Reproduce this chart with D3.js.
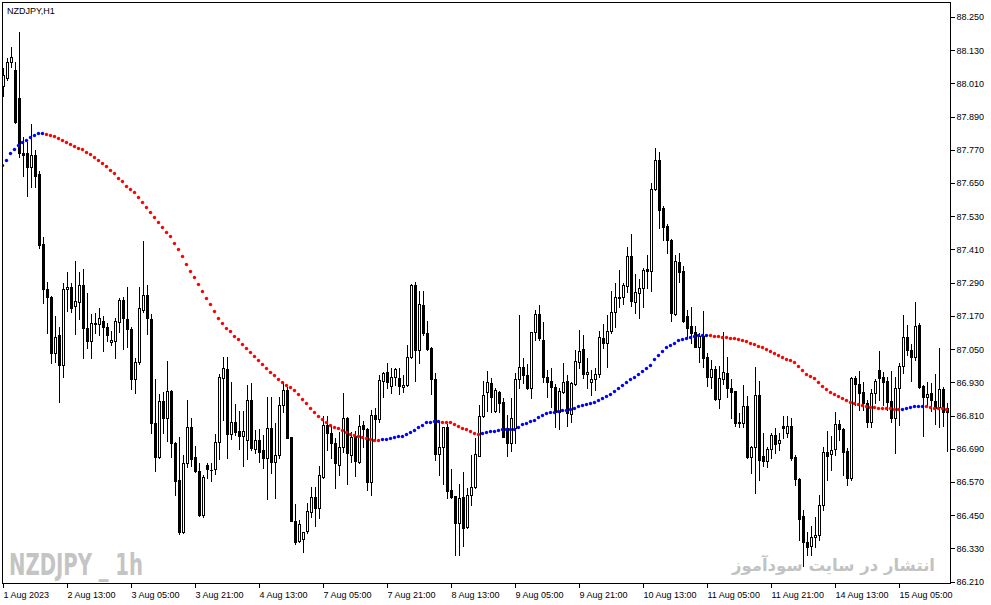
<!DOCTYPE html>
<html>
<head>
<meta charset="utf-8">
<script src="https://cdn.jsdelivr.net/npm/d3@7"></script>
<style>
  html, body { margin: 0; padding: 0; background: #fff; }
  svg { display: block; }
</style>
</head>
<body>
<div id="chart"></div>
<script>
// NZDJPY H1, first bar 1 Aug 2023 21:00, one bar per hour (weekend skipped)
var openP = [
  88.002, 88.031, 88.087, 88.059, 87.959, 87.759, 87.757, 87.709, 87.751, 87.682,
  87.430, 87.266, 87.238, 87.035, 87.101, 86.993, 87.266, 87.273, 87.205, 87.219,
  87.281, 87.125, 87.079, 87.143, 87.140, 87.151, 87.129, 87.075, 87.080, 87.149,
  87.227, 87.158, 87.122, 86.941, 87.005, 87.191, 87.245, 87.158, 86.782, 86.662,
  86.862, 86.802, 86.899, 86.712, 86.577, 86.390, 86.638, 86.767, 86.660, 86.610,
  86.451, 86.631, 86.613, 86.616, 86.714, 86.945, 86.977, 86.743, 86.788, 86.754,
  86.737, 86.722, 86.866, 86.690, 86.722, 86.686, 86.658, 86.766, 86.643, 86.668,
  86.848, 86.902, 86.731, 86.429, 86.358, 86.363, 86.393, 86.463, 86.515, 86.475,
  86.587, 86.775, 86.746, 86.710, 86.631, 86.697, 86.800, 86.668, 86.736, 86.643,
  86.776, 86.760, 86.569, 86.812, 86.796, 86.935, 86.966, 86.917, 86.950, 86.945,
  86.912, 86.920, 87.021, 87.281, 87.047, 87.209, 87.107, 87.053, 86.941, 86.671,
  86.695, 86.767, 86.541, 86.519, 86.423, 86.515, 86.406, 86.523, 86.551, 86.665,
  86.808, 86.896, 86.927, 86.828, 86.894, 86.858, 86.764, 86.712, 86.764, 86.941,
  86.986, 86.956, 86.908, 87.111, 87.176, 87.083, 86.950, 86.935, 86.914, 86.824,
  86.894, 86.935, 86.816, 86.924, 87.005, 87.049, 86.959, 86.930, 86.942, 86.959,
  87.089, 87.071, 87.117, 87.185, 87.239, 87.237, 87.279, 87.386, 87.221, 87.254,
  87.272, 87.339, 87.332, 87.627, 87.733, 87.559, 87.495, 87.444, 87.177, 87.366,
  87.332, 87.169, 87.134, 87.111, 87.058, 87.097, 87.021, 86.950, 86.977, 86.870,
  86.942, 86.963, 86.908, 86.899, 86.788, 86.784, 86.845, 86.662, 86.697, 86.884,
  86.664, 86.647, 86.688, 86.740, 86.712, 86.773, 86.748, 86.772, 86.659, 86.581,
  86.447, 86.354, 86.339, 86.370, 86.378, 86.487, 86.677, 86.670, 86.688, 86.779,
  86.761, 86.682, 86.584, 86.945, 86.923, 86.894, 86.854, 86.788, 86.893, 86.974,
  86.948, 86.935, 86.862, 86.802, 86.908, 86.989, 87.093, 87.047, 87.023, 87.137,
  86.918, 86.876, 86.890, 86.864, 86.840, 86.905, 86.836
];

var highP = [
  88.067, 88.101, 88.140, 88.087, 88.196, 87.815, 87.799, 87.863, 87.769, 87.693,
  87.455, 87.291, 87.241, 87.169, 87.131, 87.290, 87.327, 87.288, 87.368, 87.327,
  87.339, 87.252, 87.177, 87.179, 87.197, 87.169, 87.143, 87.115, 87.161, 87.236,
  87.237, 87.273, 87.131, 87.017, 87.275, 87.441, 87.281, 87.177, 86.942, 86.887,
  86.894, 87.007, 86.902, 86.716, 86.734, 86.668, 86.866, 86.800, 86.700, 86.638,
  86.595, 86.640, 86.638, 86.742, 86.959, 87.021, 87.021, 86.930, 86.850, 86.826,
  86.826, 86.920, 86.927, 86.758, 86.760, 86.740, 86.876, 86.878, 86.782, 86.878,
  86.932, 86.914, 86.733, 86.489, 86.432, 86.390, 86.495, 86.551, 86.551, 86.628,
  86.809, 86.809, 86.776, 86.730, 86.749, 86.893, 86.806, 86.752, 86.755, 86.812,
  86.791, 86.764, 86.830, 86.836, 86.956, 86.968, 86.999, 86.981, 86.983, 86.981,
  86.956, 87.065, 87.285, 87.294, 87.260, 87.260, 87.151, 87.056, 86.963, 86.788,
  86.770, 86.778, 86.616, 86.521, 86.562, 86.607, 86.547, 86.668, 86.728, 86.848,
  86.935, 86.971, 86.947, 86.908, 86.899, 86.872, 86.812, 86.872, 86.963, 87.173,
  87.019, 86.995, 87.113, 87.191, 87.209, 87.149, 86.974, 86.981, 86.924, 86.908,
  86.999, 86.956, 86.932, 87.047, 87.119, 87.101, 87.017, 86.974, 86.981, 87.115,
  87.140, 87.173, 87.260, 87.288, 87.336, 87.288, 87.418, 87.465, 87.320, 87.302,
  87.342, 87.390, 87.651, 87.775, 87.763, 87.567, 87.501, 87.447, 87.390, 87.396,
  87.350, 87.191, 87.201, 87.134, 87.107, 87.188, 87.035, 87.011, 86.989, 86.989,
  87.111, 87.021, 86.942, 86.900, 86.818, 86.920, 86.881, 86.699, 86.986, 86.936,
  86.746, 86.697, 86.748, 86.764, 86.746, 86.808, 86.808, 86.800, 86.668, 86.585,
  86.469, 86.390, 86.411, 86.445, 86.523, 86.695, 86.754, 86.736, 86.824, 86.794,
  86.764, 86.693, 86.948, 86.953, 86.972, 86.930, 86.866, 86.905, 86.941, 87.043,
  86.968, 86.948, 86.972, 86.948, 86.999, 87.173, 87.137, 87.067, 87.221, 87.143,
  86.920, 86.932, 86.927, 86.960, 87.053, 86.912, 86.855
];

var lowP = [
  87.966, 88.023, 88.071, 87.866, 87.745, 87.676, 87.604, 87.636, 87.634, 87.417,
  87.217, 87.110, 86.999, 87.005, 86.860, 86.949, 87.188, 87.185, 87.106, 87.158,
  87.019, 87.055, 87.019, 87.107, 87.101, 87.044, 87.080, 87.065, 87.017, 87.113,
  87.049, 87.058, 86.905, 86.893, 86.995, 87.185, 87.103, 86.748, 86.608, 86.658,
  86.746, 86.718, 86.662, 86.523, 86.382, 86.387, 86.625, 86.629, 86.606, 86.448,
  86.445, 86.586, 86.574, 86.599, 86.652, 86.794, 86.658, 86.724, 86.740, 86.689,
  86.629, 86.653, 86.686, 86.674, 86.642, 86.620, 86.508, 86.603, 86.511, 86.658,
  86.824, 86.728, 86.428, 86.345, 86.354, 86.318, 86.385, 86.445, 86.412, 86.441,
  86.585, 86.686, 86.655, 86.547, 86.595, 86.679, 86.562, 86.643, 86.591, 86.640,
  86.697, 86.541, 86.523, 86.722, 86.788, 86.878, 86.908, 86.890, 86.920, 86.888,
  86.896, 86.917, 87.017, 86.935, 86.999, 87.101, 87.047, 86.888, 86.649, 86.595,
  86.563, 86.511, 86.513, 86.306, 86.306, 86.340, 86.403, 86.487, 86.547, 86.663,
  86.806, 86.828, 86.824, 86.824, 86.822, 86.732, 86.665, 86.682, 86.710, 86.908,
  86.927, 86.905, 86.874, 87.083, 87.083, 86.930, 86.878, 86.842, 86.770, 86.760,
  86.890, 86.773, 86.788, 86.920, 86.981, 86.945, 86.908, 86.884, 86.902, 86.948,
  87.053, 86.986, 87.109, 87.131, 87.203, 87.212, 87.257, 87.206, 87.179, 87.161,
  87.203, 87.270, 87.261, 87.625, 87.486, 87.444, 87.398, 87.153, 87.173, 87.294,
  87.147, 87.094, 87.073, 87.056, 87.005, 86.984, 86.917, 86.908, 86.867, 86.836,
  86.924, 86.878, 86.800, 86.773, 86.767, 86.770, 86.656, 86.601, 86.531, 86.577,
  86.628, 86.625, 86.658, 86.674, 86.686, 86.728, 86.731, 86.649, 86.559, 86.360,
  86.266, 86.306, 86.306, 86.336, 86.360, 86.469, 86.577, 86.613, 86.668, 86.722,
  86.595, 86.559, 86.577, 86.848, 86.830, 86.830, 86.770, 86.767, 86.856, 86.866,
  86.848, 86.830, 86.788, 86.676, 86.776, 86.963, 87.029, 86.936, 87.011, 86.908,
  86.737, 86.848, 86.828, 86.779, 86.767, 86.773, 86.683
];

var closeP = [
  88.041, 88.087, 88.105, 87.872, 87.757, 87.753, 87.709, 87.751, 87.676, 87.426,
  87.266, 87.240, 87.035, 87.094, 86.993, 87.266, 87.275, 87.199, 87.223, 87.281,
  87.125, 87.080, 87.143, 87.140, 87.161, 87.131, 87.101, 87.083, 87.151, 87.227,
  87.161, 87.121, 86.941, 87.005, 87.197, 87.245, 87.161, 86.784, 86.662, 86.862,
  86.802, 86.899, 86.710, 86.575, 86.390, 86.638, 86.767, 86.653, 86.608, 86.451,
  86.587, 86.617, 86.614, 86.714, 86.950, 86.981, 86.743, 86.788, 86.752, 86.737,
  86.755, 86.866, 86.692, 86.722, 86.680, 86.658, 86.766, 86.643, 86.668, 86.848,
  86.902, 86.730, 86.430, 86.354, 86.417, 86.388, 86.465, 86.515, 86.475, 86.594,
  86.775, 86.746, 86.710, 86.638, 86.697, 86.800, 86.674, 86.731, 86.647, 86.773,
  86.760, 86.569, 86.812, 86.796, 86.937, 86.963, 86.930, 86.950, 86.977, 86.917,
  86.920, 87.021, 87.281, 87.047, 87.212, 87.110, 87.050, 86.941, 86.671, 86.697,
  86.767, 86.538, 86.515, 86.423, 86.511, 86.403, 86.523, 86.551, 86.671, 86.808,
  86.884, 86.930, 86.878, 86.902, 86.854, 86.734, 86.712, 86.800, 86.942, 86.984,
  86.956, 86.908, 87.111, 87.176, 87.089, 86.950, 86.932, 86.912, 86.824, 86.900,
  86.932, 86.818, 86.927, 87.007, 87.043, 86.959, 86.966, 86.942, 86.959, 87.092,
  87.071, 87.117, 87.185, 87.237, 87.234, 87.281, 87.386, 87.225, 87.255, 87.272,
  87.336, 87.333, 87.627, 87.733, 87.552, 87.492, 87.444, 87.182, 87.368, 87.330,
  87.151, 87.127, 87.109, 87.058, 87.097, 87.019, 86.950, 86.977, 86.870, 86.945,
  86.966, 86.908, 86.896, 86.784, 86.784, 86.845, 86.662, 86.697, 86.884, 86.649,
  86.647, 86.688, 86.740, 86.707, 86.722, 86.764, 86.773, 86.656, 86.581, 86.435,
  86.354, 86.336, 86.370, 86.378, 86.487, 86.679, 86.665, 86.686, 86.780, 86.760,
  86.679, 86.584, 86.945, 86.923, 86.893, 86.856, 86.788, 86.890, 86.935, 86.947,
  86.932, 86.860, 86.802, 86.908, 86.989, 87.093, 87.047, 87.023, 87.134, 86.914,
  86.878, 86.887, 86.866, 86.836, 86.905, 86.824, 86.824
];

// dotted moving average (blue while rising, red while falling)
var maValues = [
  87.717, 87.735, 87.757, 87.772, 87.787, 87.799, 87.804, 87.816, 87.823, 87.830,
  87.831, 87.826, 87.822, 87.819, 87.814, 87.804, 87.797, 87.790, 87.783, 87.778,
  87.772, 87.764, 87.754, 87.743, 87.732, 87.721, 87.710, 87.696, 87.685, 87.670,
  87.656, 87.641, 87.627, 87.616, 87.598, 87.582, 87.564, 87.545, 87.527, 87.509,
  87.491, 87.473, 87.457, 87.433, 87.410, 87.385, 87.356, 87.331, 87.309, 87.284,
  87.259, 87.233, 87.212, 87.186, 87.164, 87.146, 87.128, 87.114, 87.099, 87.085,
  87.067, 87.053, 87.038, 87.024, 87.009, 86.995, 86.981, 86.966, 86.955, 86.941,
  86.930, 86.921, 86.912, 86.901, 86.887, 86.869, 86.854, 86.836, 86.822, 86.807,
  86.797, 86.786, 86.777, 86.770, 86.764, 86.757, 86.752, 86.744, 86.741, 86.737,
  86.734, 86.730, 86.726, 86.723, 86.721, 86.724, 86.726, 86.730, 86.734, 86.735,
  86.737, 86.744, 86.752, 86.759, 86.770, 86.777, 86.786, 86.788, 86.790, 86.791,
  86.788, 86.786, 86.785, 86.781, 86.773, 86.766, 86.760, 86.755, 86.748, 86.744,
  86.746, 86.749, 86.753, 86.755, 86.759, 86.760, 86.761, 86.762, 86.763, 86.770,
  86.778, 86.782, 86.789, 86.795, 86.806, 86.811, 86.818, 86.822, 86.823, 86.825,
  86.829, 86.830, 86.833, 86.836, 86.843, 86.847, 86.851, 86.854, 86.858, 86.865,
  86.872, 86.880, 86.887, 86.898, 86.908, 86.919, 86.930, 86.941, 86.948, 86.959,
  86.970, 86.981, 86.992, 87.013, 87.028, 87.042, 87.057, 87.065, 87.072, 87.083,
  87.088, 87.091, 87.095, 87.099, 87.100, 87.101, 87.102, 87.100, 87.099, 87.098,
  87.095, 87.094, 87.091, 87.090, 87.088, 87.083, 87.079, 87.072, 87.069, 87.061,
  87.057, 87.049, 87.042, 87.035, 87.028, 87.021, 87.014, 87.010, 87.002, 86.989,
  86.975, 86.959, 86.953, 86.945, 86.930, 86.916, 86.905, 86.894, 86.887, 86.881,
  86.873, 86.865, 86.858, 86.854, 86.851, 86.847, 86.843, 86.841, 86.840, 86.839,
  86.838, 86.837, 86.836, 86.835, 86.833, 86.834, 86.836, 86.840, 86.843, 86.844,
  86.845, 86.843, 86.840, 86.839, 86.838, 86.836, 86.835
];

// one time label every 16 bars
var xTickLabels = [
  "1 Aug 2023", "2 Aug 13:00", "3 Aug 05:00", "3 Aug 21:00", "4 Aug 13:00",
  "7 Aug 05:00", "7 Aug 21:00", "8 Aug 13:00", "9 Aug 05:00", "9 Aug 21:00",
  "10 Aug 13:00", "11 Aug 05:00", "11 Aug 21:00", "14 Aug 13:00", "15 Aug 05:00"
];
var xTickEvery = 16;

var yTickLabels = [
  "86.210", "86.330", "86.450", "86.570", "86.690", "86.810", "86.930", "87.050", "87.170",
  "87.290", "87.410", "87.530", "87.650", "87.770", "87.890", "88.010", "88.130", "88.250"
];

(function () {
  var W = 991, H = 605;
  var frame = { left: 2.5, top: 2.5, right: 950.5, bottom: 583.5 };
  var font = "'Liberation Sans', Arial, sans-serif";

  var n = openP.length;
  var bars = d3.range(n).map(function (i) {
    return { i: i, o: openP[i], h: highP[i], l: lowP[i], c: closeP[i], ma: maValues[i] };
  });

  var svg = d3.select("#chart").append("svg")
    .attr("width", W)
    .attr("height", H)
    .style("background", "#fff");

  // 4px per hourly bar
  var x = d3.scaleBand()
    .domain(d3.range(n))
    .range([1.5, 1.5 + 4 * n]);
  var y = d3.scaleLinear()
    .domain([86.21, 88.25])
    .range([581.6, 17]);

  function cx(i) { return x(i) + x.bandwidth() / 2; }

  svg.append("clipPath").attr("id", "plotClip")
    .append("rect")
    .attr("x", frame.left).attr("y", frame.top)
    .attr("width", frame.right - frame.left).attr("height", frame.bottom - frame.top);

  // watermarks sit behind the candles
  svg.append("text")
    .attr("x", 9)
    .attr("y", 575)
    .attr("textLength", 134)
    .attr("lengthAdjust", "spacingAndGlyphs")
    .style("font-family", "'Liberation Sans Narrow', 'DejaVu Sans Condensed', sans-serif")
    .style("font-weight", "bold")
    .style("font-size", "30px")
    .style("fill", "#c4c4c4")
    .text("NZDJPY _ 1h");

  svg.append("text")
    .attr("x", 935)
    .attr("y", 571)
    .attr("text-anchor", "end")
    .style("font-family", "'DejaVu Sans', sans-serif")
    .style("font-weight", "bold")
    .style("font-size", "16.5px")
    .style("fill", "#c2c2c2")
    .text("انتشار در سایت سودآموز");

  var plot = svg.append("g").attr("clip-path", "url(#plotClip)");

  var candles = plot.selectAll("g.candle")
    .data(bars)
    .enter()
    .append("g")
    .attr("class", "candle")
    .attr("shape-rendering", "crispEdges");

  candles.append("line")
    .attr("x1", function (d) { return cx(d.i); })
    .attr("x2", function (d) { return cx(d.i); })
    .attr("y1", function (d) { return Math.round(y(d.h)); })
    .attr("y2", function (d) { return Math.round(y(d.l)) + 1; })
    .attr("stroke", "#000")
    .attr("stroke-width", 1);

  candles.each(function (d) {
    var g = d3.select(this);
    var top = Math.round(y(Math.max(d.o, d.c)));
    var bot = Math.round(y(Math.min(d.o, d.c)));
    if (bot - top < 2 || d.c < d.o) {
      // bearish candle or doji: solid body
      g.append("rect")
        .attr("x", cx(d.i) - 1.5)
        .attr("y", top)
        .attr("width", 3)
        .attr("height", Math.max(1, bot - top + 1))
        .attr("fill", "#000");
    } else {
      g.append("rect")
        .attr("x", cx(d.i) - 1)
        .attr("y", top + 0.5)
        .attr("width", 2)
        .attr("height", bot - top)
        .attr("fill", "#fff")
        .attr("stroke", "#000")
        .attr("stroke-width", 1);
    }
  });

  // moving average dots
  var lastUp = true;
  bars.forEach(function (d, i) {
    if (i > 0 && d.ma !== bars[i - 1].ma) lastUp = d.ma > bars[i - 1].ma;
    d.up = lastUp;
  });

  plot.selectAll("circle.ma")
    .data(bars)
    .enter()
    .append("circle")
    .attr("class", "ma")
    .attr("cx", function (d) { return cx(d.i) - 1; })
    .attr("cy", function (d) { return Math.round(y(d.ma)) + 0.5; })
    .attr("r", 1.7)
    .attr("fill", function (d) { return d.up ? "#0000ff" : "#ff0000"; });

  // frame
  svg.append("rect")
    .attr("x", frame.left).attr("y", frame.top)
    .attr("width", frame.right - frame.left).attr("height", frame.bottom - frame.top)
    .attr("fill", "none")
    .attr("stroke", "#000")
    .attr("stroke-width", 1)
    .attr("shape-rendering", "crispEdges");

  // price axis on the right
  var yAxis = d3.axisRight(y)
    .tickValues(yTickLabels.map(Number))
    .tickFormat(function (d, i) { return yTickLabels[i]; })
    .tickSize(4)
    .tickPadding(2);

  var gy = svg.append("g")
    .attr("transform", "translate(" + frame.right + ",0)")
    .call(yAxis);
  gy.select(".domain").remove();
  gy.selectAll("line").attr("stroke", "#000").attr("shape-rendering", "crispEdges");
  gy.selectAll("text")
    .style("font-family", font)
    .style("font-size", "9px")
    .attr("fill", "#000");

  // time axis
  var xAxis = d3.axisBottom(x)
    .tickValues(xTickLabels.map(function (t, k) { return k * xTickEvery; }))
    .tickFormat(function (d, k) { return xTickLabels[k]; })
    .tickSize(4)
    .tickPadding(4);

  var gx = svg.append("g")
    .attr("transform", "translate(0," + frame.bottom + ")")
    .call(xAxis);
  gx.select(".domain").remove();
  gx.selectAll("line").attr("stroke", "#000").attr("shape-rendering", "crispEdges");
  gx.selectAll("text")
    .attr("text-anchor", "start")
    .attr("x", 0)
    .style("font-family", font)
    .style("font-size", "9px")
    .attr("fill", "#000");

  // symbol caption
  svg.append("text")
    .attr("x", 7)
    .attr("y", 14)
    .style("font-family", font)
    .style("font-size", "9px")
    .attr("fill", "#000")
    .text("NZDJPY,H1");
})();
</script>
</body>
</html>
